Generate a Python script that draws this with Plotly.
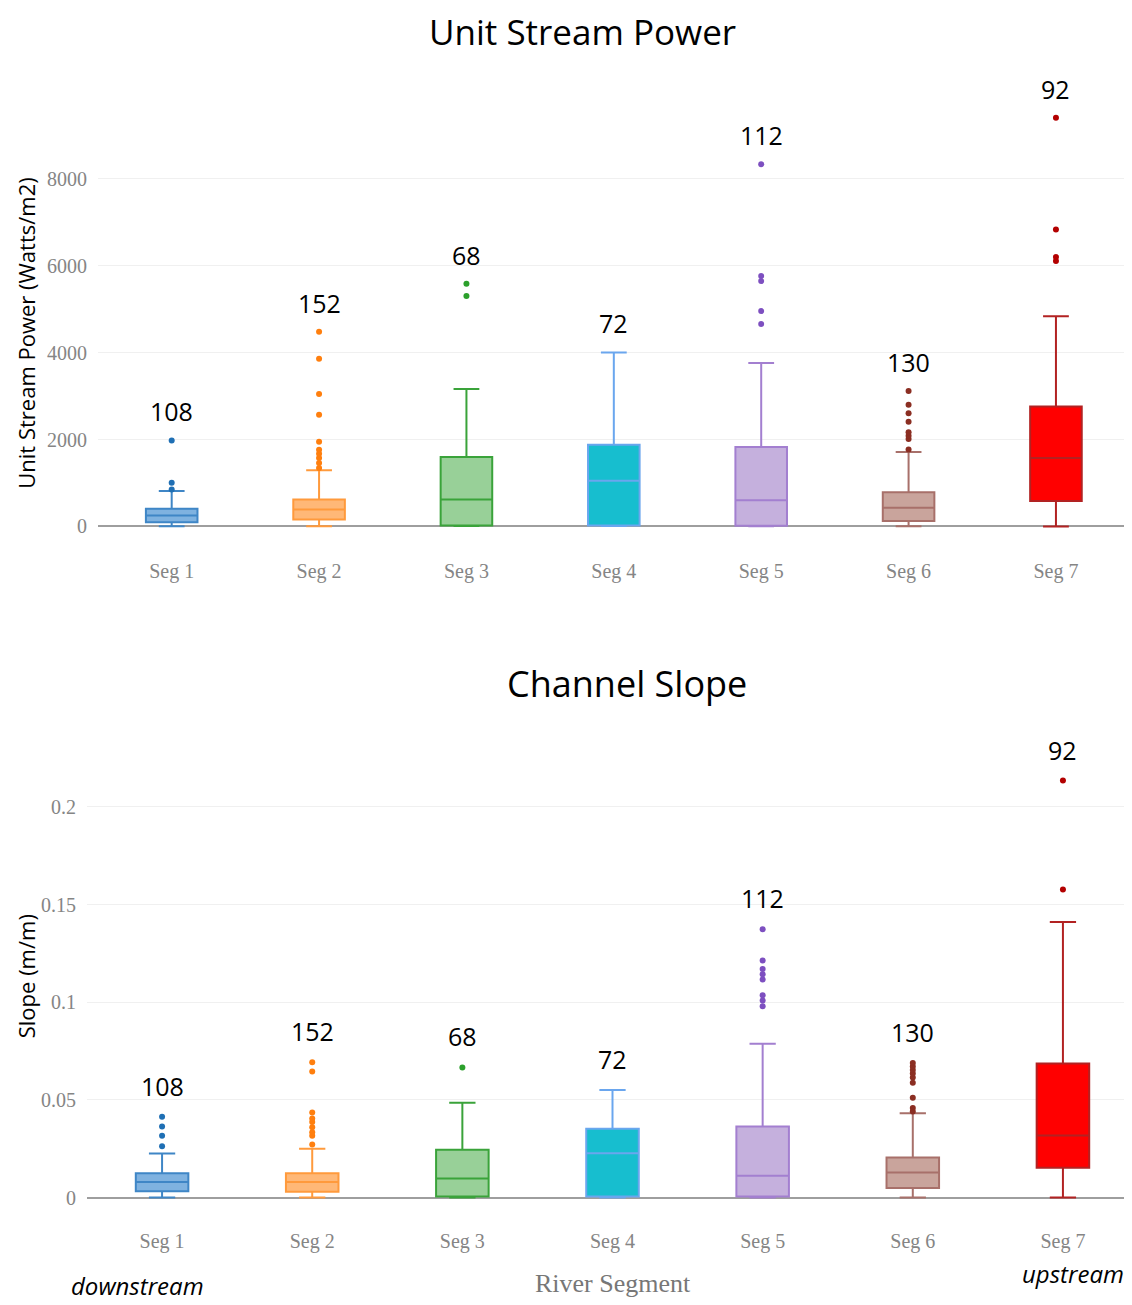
import plotly.graph_objects as go

# browser body margin of 8px is compensated for
OFF = 8
W, H = 1132 - OFF, 1305 - OFF

categories = ["Seg 1", "Seg 2", "Seg 3", "Seg 4", "Seg 5", "Seg 6", "Seg 7"]
counts = [108, 152, 68, 72, 112, 130, 92]

# Unit stream power (Watts/m2)
power_q1 = [99, 160, 23, 20, 15, 128, 587]
power_median = [252, 390, 619, 1054, 600, 428, 1575]
power_q3 = [406, 619, 1597, 1879, 1830, 784, 2760]
power_lower = [7, 5, 10, 10, 5, 5, 0]
power_upper = [818, 1291, 3163, 4004, 3760, 1710, 4838]
power_outliers = [
    [850, 1008, 1978],
    [1345, 1460, 1574, 1673, 1765, 1948, 2567, 3048, 3858, 4477],
    [5302, 5585],
    [],
    [4657, 4955, 5645, 5764, 8333],
    [1772, 2010, 2088, 2168, 2406, 2603, 2800, 3117],
    [6104, 6198, 6830, 9400],
]

# Channel slope (m/m)
slope_q1 = [0.0032, 0.003, 0.0005, 0.0005, 0.0005, 0.0049, 0.0152]
slope_median = [0.008, 0.008, 0.0098, 0.0227, 0.0112, 0.0128, 0.0317]
slope_q3 = [0.0124, 0.0124, 0.0245, 0.0352, 0.0364, 0.0205, 0.0686]
slope_lower = [0, 0, 0, 0, 0, 0, 0]
slope_upper = [0.0226, 0.025, 0.0485, 0.0551, 0.0787, 0.0431, 0.1411]
slope_outliers = [
    [0.0263, 0.0316, 0.0364, 0.0414],
    [0.0271, 0.0316, 0.0334, 0.036, 0.0387, 0.0405, 0.0435, 0.0645, 0.0693],
    [0.0666],
    [],
    [0.0979, 0.1009, 0.1036, 0.1116, 0.1143, 0.117, 0.1214, 0.1374],
    [0.0441, 0.0459, 0.0511, 0.0588, 0.0615, 0.0635, 0.0653, 0.0671, 0.0689],
    [0.1577, 0.2135],
]

line_colors = ["#3f86c6", "#ff9a3c", "#3aa33a", "#6aa6ee", "#a37fd0", "#a8706a", "#b22222"]
fill_colors = ["#7fb2e0", "#ffb877", "#98d098", "#17becf", "#c5b0dd", "#c9a49c", "#ff0000"]
marker_colors = ["#1f6fb4", "#ff7f0e", "#2ca02c", "#17becf", "#7d4fc0", "#8b2e22", "#b30000"]


def px_x(p):
    return (p - OFF) / W


def px_y(p):
    return 1 - (p - OFF) / H


fig = go.Figure()


def add_panel(xa, ya, q1, med, q3, lo, up, outs, shift):
    for i, cat in enumerate(categories):
        fig.add_trace(go.Box(
            x=[cat], q1=[q1[i]], median=[med[i]], q3=[q3[i]],
            lowerfence=[lo[i]], upperfence=[up[i]],
            fillcolor=fill_colors[i], line=dict(color=line_colors[i], width=2),
            whiskerwidth=0.5, showlegend=False, xaxis=xa, yaxis=ya,
            boxpoints=False,
        ))
        if outs[i]:
            fig.add_trace(go.Scatter(
                x=[cat] * len(outs[i]), y=outs[i], mode="markers",
                marker=dict(color=marker_colors[i], size=6),
                showlegend=False, xaxis=xa, yaxis=ya,
            ))
        top = max([up[i]] + outs[i])
        fig.add_annotation(
            x=cat, y=top, xref=xa, yref=ya, text=str(counts[i]),
            showarrow=False, yshift=shift,
            font=dict(family="Open Sans", size=25, color="black"),
        )


add_panel("x", "y", power_q1, power_median, power_q3, power_lower, power_upper, power_outliers, 29)
add_panel("x2", "y2", slope_q1, slope_median, slope_q3, slope_lower, slope_upper, slope_outliers, 31)

tickfont = dict(family="Liberation Serif", size=20, color="#858585")

fig.update_layout(
    width=W, height=H,
    margin=dict(l=0, r=0, t=0, b=0),
    paper_bgcolor="white", plot_bgcolor="white",
    boxgap=0.5,
    xaxis=dict(domain=[px_x(98), 1], range=[-0.5, 6.516], type="category",
               categoryorder="array", categoryarray=categories,
               showgrid=False, zeroline=False, showline=False,
               ticks="outside", ticklen=20, tickcolor="rgba(0,0,0,0)",
               tickfont=tickfont, anchor="y"),
    yaxis=dict(domain=[px_y(535), px_y(79)], range=[-150, 10300],
               tickvals=[0, 2000, 4000, 6000, 8000],
               showgrid=True, gridcolor="#f0f0f0", gridwidth=1,
               zeroline=True, zerolinecolor="#9e9e9e", zerolinewidth=2,
               showline=False, ticks="outside", ticklen=6, tickcolor="rgba(0,0,0,0)",
               tickfont=tickfont, anchor="x"),
    xaxis2=dict(domain=[px_x(87), 1], range=[-0.5, 6.46], type="category",
                categoryorder="array", categoryarray=categories,
                showgrid=False, zeroline=False, showline=False,
                ticks="outside", ticklen=20, tickcolor="rgba(0,0,0,0)",
                tickfont=tickfont, anchor="y2"),
    yaxis2=dict(domain=[px_y(1208), px_y(761)], range=[-0.003, 0.225],
                tickvals=[0, 0.05, 0.1, 0.15, 0.2],
                ticktext=["0", "0.05", "0.1", "0.15", "0.2"],
                showgrid=True, gridcolor="#f0f0f0", gridwidth=1,
                zeroline=True, zerolinecolor="#9e9e9e", zerolinewidth=2,
                showline=False, ticks="outside", ticklen=6, tickcolor="rgba(0,0,0,0)",
                tickfont=tickfont, anchor="x2"),
)

texts = [
    dict(text="Unit Stream Power", x=582, y=32, size=35, family="Open Sans", color="black"),
    dict(text="Channel Slope", x=627, y=686, size=36, family="Open Sans", color="black"),
    dict(text="River Segment", x=613, y=1288, size=26, family="Liberation Serif", color="#777777"),
    dict(text="<i>downstream</i>", x=137, y=1290, size=24, family="Open Sans", color="black"),
    dict(text="<i>upstream</i>", x=1073, y=1278, size=24, family="Open Sans", color="black"),
]
for t in texts:
    fig.add_annotation(
        x=px_x(t["x"]), y=px_y(t["y"]), xref="paper", yref="paper",
        text=t["text"], showarrow=False, xanchor="center", yanchor="middle",
        font=dict(family=t["family"], size=t["size"], color=t["color"]),
    )

for text, x, y in [("Unit Stream Power (Watts/m2)", 26, 335), ("Slope (m/m)", 26, 980)]:
    fig.add_annotation(
        x=px_x(x), y=px_y(y), xref="paper", yref="paper", text=text,
        showarrow=False, textangle=-90, xanchor="center", yanchor="middle",
        font=dict(family="Open Sans", size=22, color="black"),
    )

fig.write_html("out.html")
